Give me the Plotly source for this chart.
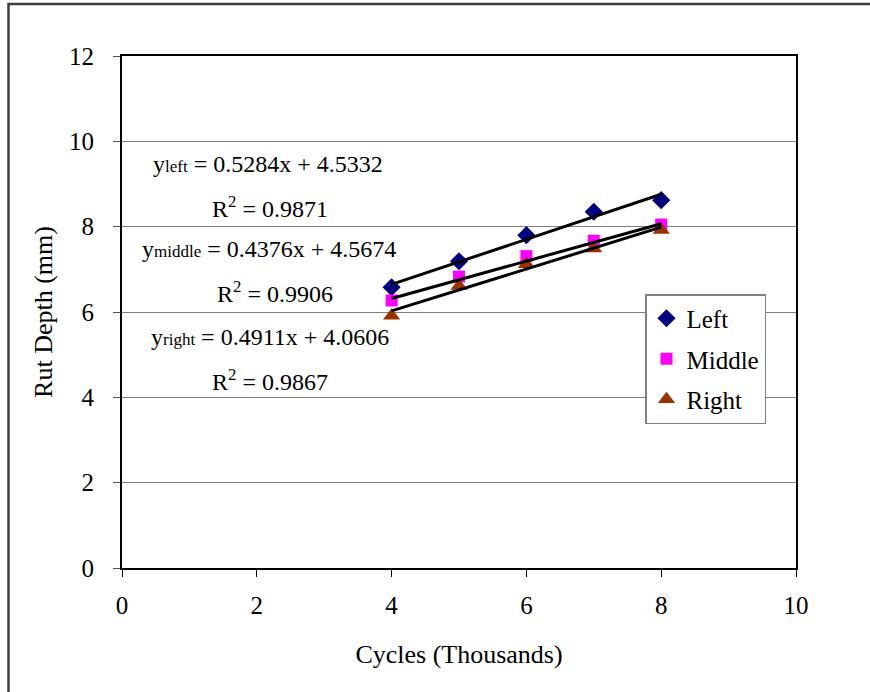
import plotly.graph_objects as go

# ---- data ----
cycles = [4, 5, 6, 7, 8]
left_depth = [6.58, 7.19, 7.80, 8.35, 8.62]
middle_depth = [6.27, 6.83, 7.31, 7.67, 8.05]
right_depth = [5.91, 6.61, 7.12, 7.49, 7.92]

series_names = ["Left", "Middle", "Right"]
subscripts = ["left", "middle", "right"]
slopes = [0.5284, 0.4376, 0.4911]
intercepts = [4.5332, 4.5674, 4.0606]
r_squared = ["0.9871", "0.9906", "0.9867"]

x_ticks = [0, 2, 4, 6, 8, 10]
y_ticks = [0, 2, 4, 6, 8, 10, 12]

FONT = "Liberation Serif, Times New Roman, serif"

colors = ["#000080", "#FF00FF", "#993300"]
symbols = ["diamond", "square", "triangle-up"]
msizes = [14, 12, 15]
values = [left_depth, middle_depth, right_depth]

fig = go.Figure()

for i, name in enumerate(series_names):
    fig.add_trace(go.Scatter(
        x=cycles, y=values[i], mode="markers", name=name,
        legendgroup=name,
        marker=dict(symbol=symbols[i], size=msizes[i], color=colors[i],
                    line=dict(width=0)),
    ))

# trendlines from regression coefficients
x_fit = [min(cycles), max(cycles)]
for i, name in enumerate(series_names):
    fig.add_trace(go.Scatter(
        x=x_fit, y=[slopes[i] * xv + intercepts[i] for xv in x_fit],
        mode="lines", line=dict(color="black", width=3),
        showlegend=False, hoverinfo="skip",
    ))

# equation annotations (data coords)
eq_pos = [(2.17, 9.47), (2.18, 7.48), (2.20, 5.42)]
r2_pos = [(2.20, 8.47), (2.27, 6.47), (2.20, 4.41)]
for i in range(3):
    fig.add_annotation(
        x=eq_pos[i][0], y=eq_pos[i][1], xref="x", yref="y", showarrow=False,
        text=f"y<span style='font-size:17px'>{subscripts[i]}</span> = {slopes[i]:.4f}x + {intercepts[i]:.4f}",
        font=dict(family=FONT, size=24, color="black"),
    )
    fig.add_annotation(
        x=r2_pos[i][0], y=r2_pos[i][1], xref="x", yref="y", showarrow=False,
        text=f"R<sup>2</sup> = {r_squared[i]}",
        font=dict(family=FONT, size=24, color="black"),
    )

# outer frame (extends beyond the visible page on right and bottom)
L, R, T, B = 122, 74, 56, 124
PW, PH = 870 - L - R, 692 - T - B
fig.add_shape(type="rect", xref="paper", yref="paper",
              x0=(8.5 - L) / PW, x1=(880 - L) / PW,
              y0=-(710 - (692 - B)) / PH, y1=1 + (T - 4) / PH,
              line=dict(color="#404040", width=2.5), layer="below")

fig.update_layout(
    width=870, height=692,
    margin=dict(l=L, r=R, t=T, b=B),
    paper_bgcolor="white", plot_bgcolor="white",
    font=dict(family=FONT, size=25, color="black"),
    showlegend=True,
    legend=dict(
        x=(645 - L) / PW, y=(692 - B - 294) / PH, xanchor="left", yanchor="top",
        bgcolor="white", bordercolor="#808080", borderwidth=1.5,
        font=dict(family=FONT, size=25, color="black"),
        tracegroupgap=5, itemwidth=30,
    ),
    xaxis=dict(
        range=[0, 10], tickvals=x_ticks, ticktext=[str(v) for v in x_ticks],
        showgrid=False, zeroline=False,
        showline=True, linecolor="black", linewidth=2, mirror=True,
        ticks="outside", ticklen=7, tickcolor="black", tickwidth=1,
        ticklabelstandoff=7,
        tickfont=dict(family=FONT, size=25),
        title=dict(text="Cycles (Thousands)", font=dict(family=FONT, size=26), standoff=27),
    ),
    yaxis=dict(
        range=[0, 12], tickvals=y_ticks, ticktext=[str(v) for v in y_ticks],
        showgrid=True, gridcolor="#808080", gridwidth=1, zeroline=False,
        showline=True, linecolor="black", linewidth=2, mirror=True,
        ticks="outside", ticklen=7, tickcolor="#555555", tickwidth=1,
        ticklabelstandoff=14,
        tickfont=dict(family=FONT, size=25),
        title=dict(text="Rut Depth (mm)", font=dict(family=FONT, size=26), standoff=9),
    ),
)

fig.write_html("out.html")
